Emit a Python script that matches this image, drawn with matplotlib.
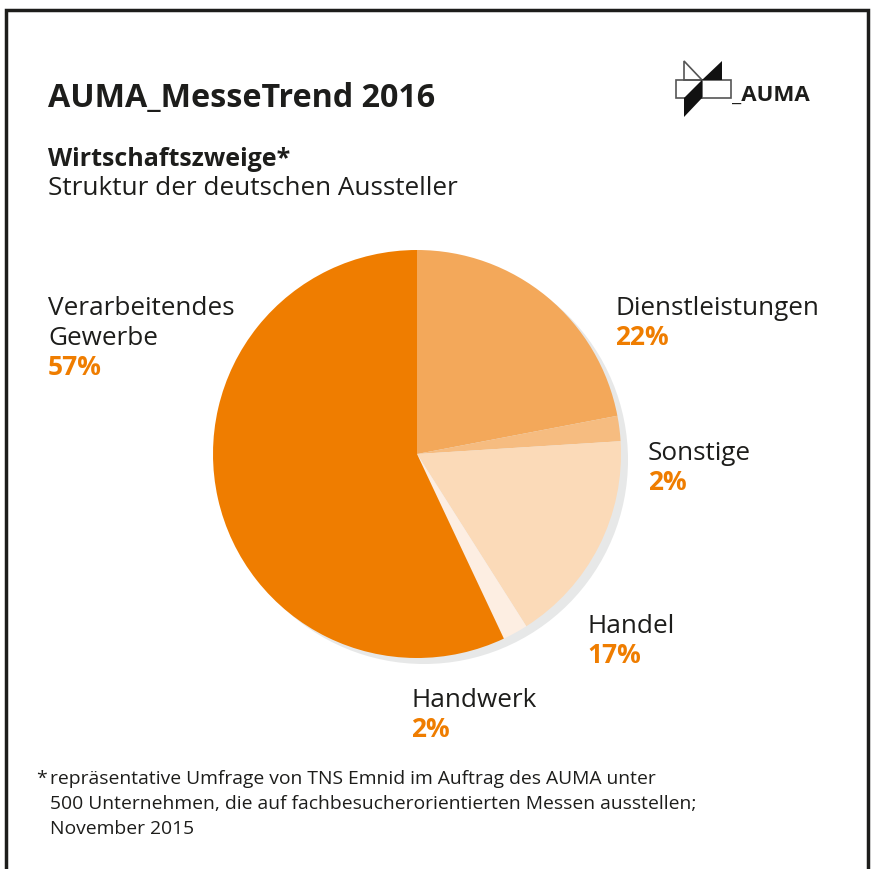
import matplotlib.pyplot as plt
from matplotlib.patches import Rectangle, Polygon, Circle

# data
labels = ["Dienstleistungen", "Sonstige", "Handel", "Handwerk", "Verarbeitendes\nGewerbe"]
shares = [22, 2, 17, 2, 57]
colors = ["#f3a85a", "#f6bc80", "#fbdab8", "#fdeee2", "#ef7d00"]

title = "AUMA_MesseTrend 2016"
subtitle = "Wirtschaftszweige*"
subtitle2 = "Struktur der deutschen Aussteller"
footnote = ["repräsentative Umfrage von TNS Emnid im Auftrag des AUMA unter",
            "500 Unternehmen, die auf fachbesucherorientierten Messen ausstellen;",
            "November 2015"]

dark = "#1d1d1b"
orange = "#ef7d00"
font = ["Open Sans", "DejaVu Sans"]

W, H = 875, 870
fig = plt.figure(figsize=(W / 100, H / 100), dpi=100)
ax = fig.add_axes([0, 0, 1, 1])
ax.axis("off")


def py(y):
    # pixel row (from top) -> data y
    return H - y


# frame
ax.add_patch(Rectangle((6, -20), 862, py(11) + 20, fill=False, ec="#1d1d1b", lw=2.5))

# shadow + pie
cx, cy, r = 417, py(455), 204
ax.add_patch(Circle((cx + 7, cy - 6), r, color="#e7e8e8", lw=0, zorder=1))
wedges, _ = ax.pie(shares, colors=colors, startangle=90, counterclock=False,
                   radius=r, center=(cx, cy), wedgeprops=dict(linewidth=0))
for w in wedges:
    w.set_zorder(2)
ax.set_xlim(0, W)
ax.set_ylim(0, H)
ax.set_aspect("auto")

# titles
ax.text(48, py(107), title, fontsize=23.2, fontweight="bold", color=dark, family=font)
ax.text(48, py(166), subtitle, fontsize=18, fontweight="bold", color=dark, family=font)
ax.text(48, py(195), subtitle2, fontsize=18.8, color=dark, family=font)

# slice labels: (x, baseline of first line)
label_pos = [(615, 315), (648, 460), (587, 633), (411, 707), (48, 315)]
for name, val, (x, y) in zip(labels, shares, label_pos):
    lines = name.split("\n")
    for i, ln in enumerate(lines):
        ax.text(x, py(y + 30 * i), ln, fontsize=18.8, color=dark, family=font)
    ax.text(x, py(y + 30 * len(lines)), f"{val}%", fontsize=19, fontweight="bold",
            color=orange, family=font)

# footnote
ax.text(36, py(784), "*", fontsize=14, color=dark, family=font)
for i, ln in enumerate(footnote):
    ax.text(50, py(784 + 25 * i), ln, fontsize=13.9, color=dark, family=font)

# logo
ax.add_patch(Rectangle((676, py(99)), 55, 18, fill=False, ec="#555555", lw=1.2, zorder=3))
ax.plot([702, 702], [py(81), py(99)], color="#555555", lw=1.2, zorder=3)
ax.add_patch(Polygon([(684, py(62)), (702, py(81)), (684, py(81))], closed=True,
                     fill=False, ec="#555555", lw=1.2, zorder=3))
black_tris = [
    [(722, py(62)), (722, py(81)), (702, py(81))],
    [(702, py(81)), (702, py(99)), (684, py(99))],
    [(684, py(99)), (702, py(99)), (684, py(118))],
]
for tri in black_tris:
    ax.add_patch(Polygon(tri, closed=True, color="#111111", lw=0, zorder=4))
ax.text(732, py(101), "_AUMA", fontsize=16, fontweight="bold", color=dark, family=font)

fig.savefig("out.png", dpi=100)
